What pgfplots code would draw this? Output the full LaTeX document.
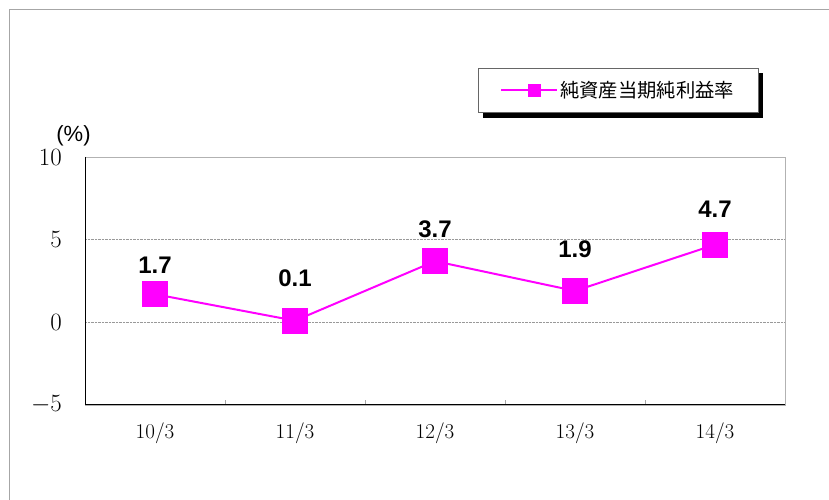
\documentclass[border=0pt]{standalone}
\usepackage{pgfplots}
\pgfplotsset{compat=1.18}
\usepackage{pgfplotstable}
\usepackage{fontspec}
\usetikzlibrary{backgrounds}
\newfontfamily\cjk{Noto Sans CJK JP}
\newfontfamily\lab{Liberation Sans}
\definecolor{mag}{RGB}{255,0,255}
\pgfplotstableread{
x y off
0 1.7 21
1 0.1 34.5
2 3.7 23.5
3 1.9 33.5
4 4.7 27.5
}\datatable
\begin{document}
\begin{tikzpicture}
\useasboundingbox (0pt,0pt) rectangle (829pt,500pt);
\draw[gray!70, line width=1pt] (9.5pt,0pt) -- (9.5pt,490.5pt) -- (829pt,490.5pt);
\node[font=\lab\fontsize{22}{22}\selectfont] at (73.5pt,364pt) {(\%)};
\begin{axis}[
  at={(85pt,95pt)}, anchor=south west,
  scale only axis, width=700pt, height=248pt,
  clip=false,
  xmin=-0.5, xmax=4.5, ymin=-5, ymax=10,
  ytick={-5,0,5,10},
  xtick={-0.5,0.5,1.5,2.5,3.5,4.5},
  x tick label as interval,
  xticklabels={10/3,11/3,12/3,13/3,14/3},
  xtick pos=left,
  tick align=inside,
  major tick length=5pt,
  ytick style={draw=none},
  xtick style={gray!70, line width=0.6pt},
  axis line style={gray!60, line width=0.8pt},
  ymajorgrids,
  grid style={densely dotted, gray!80, line width=0.6pt},
  yticklabel style={font=\fontsize{26}{26}\selectfont, inner sep=0pt, anchor=east, xshift=-23pt},
  xticklabel style={font=\fontsize{21}{21}\selectfont, inner sep=0pt, anchor=north, yshift=-18pt},
  legend style={name=leg, at={(axis description cs:0.5614,1.3589)}, anchor=north west,
    draw=gray!80!black, fill=white, line width=0.8pt,
    inner xsep=22pt, inner ysep=11pt,
    font=\cjk\fontsize{19.3}{19.3}\selectfont},
  legend image code/.code={\path (0pt,0pt) -- (10pt,0pt);
    \draw[mark repeat=2,mark phase=2,#1,mark size=5.5pt] plot coordinates {(10pt,0pt) (33pt,0pt) (56pt,0pt)};},
]
\addplot[mag, line width=2pt, mark=square*, mark size=12pt,
  mark options={fill=mag, draw=none},
  nodes near coords={\pgfmathprintnumber[fixed, fixed zerofill, precision=1, assume math mode=true]{\pgfplotspointmeta}},
  visualization depends on={\thisrow{off} \as \myoff},
  every node near coord/.append style={anchor=base, inner sep=0pt, black,
    font=\lab\bfseries\fontsize{24}{24}\selectfont, yshift=\myoff*1pt},
] table[x=x, y=y] {\datatable};
\addlegendentry{純資産当期純利益率}
\draw[black, line width=1pt] (rel axis cs:0,1) -- (rel axis cs:0,0) -- (rel axis cs:1,0);
\end{axis}
\begin{scope}[on background layer]
\fill[black] ([shift={(5pt,-5pt)}]leg.south west) rectangle ([shift={(5pt,-5pt)}]leg.north east);
\end{scope}
\end{tikzpicture}
\end{document}
